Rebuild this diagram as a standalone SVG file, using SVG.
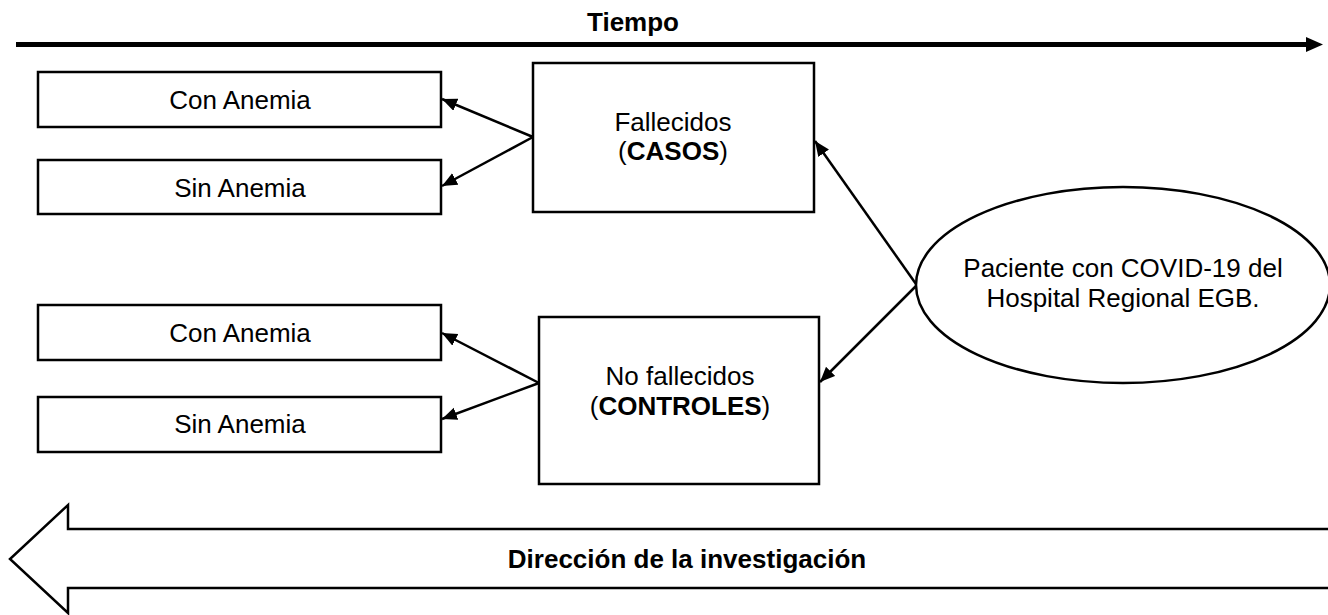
<svg xmlns="http://www.w3.org/2000/svg" width="1328" height="615" viewBox="0 0 1328 615">
<style>
.box{fill:#fff;stroke:#000;stroke-width:2.5}
.t{font-family:"Liberation Sans",Arial,sans-serif;font-size:26px;fill:#000;text-anchor:middle}
.b{font-weight:bold}
.c{stroke:#000;stroke-width:2.5;fill:none;marker-end:url(#ah)}
</style>
<defs>
<marker id="ah" markerUnits="userSpaceOnUse" markerWidth="16" markerHeight="14" refX="15" refY="6.5" orient="auto">
<path d="M0,0 L15,6.5 L0,13 z" fill="#000"/>
</marker>
</defs>
<rect width="1328" height="615" fill="#fff"/>
<g id="tiempo">
<line x1="16" y1="44.5" x2="1308" y2="44.5" stroke="#000" stroke-width="5"/>
<polygon points="1306,37 1323,44.5 1306,52" fill="#000"/>
<text class="t b" x="633" y="31">Tiempo</text>
</g>
<g id="direccion">
<path d="M1332,529 L68,529 L68,505 L10,559 L68,613 L68,588 L1332,588" fill="#fff" stroke="#000" stroke-width="2.5"/>
<text class="t b" x="687" y="568">Dirección de la investigación</text>
</g>
<g id="con1"><rect class="box" x="38" y="72" width="403" height="55"/><text class="t" x="240" y="109">Con Anemia</text></g>
<g id="sin1"><rect class="box" x="38" y="160" width="403" height="54"/><text class="t" x="240" y="197">Sin Anemia</text></g>
<g id="con2"><rect class="box" x="38" y="305" width="403" height="55"/><text class="t" x="240" y="342">Con Anemia</text></g>
<g id="sin2"><rect class="box" x="38" y="397" width="403" height="55"/><text class="t" x="240" y="433">Sin Anemia</text></g>
<g id="fallecidos"><rect class="box" x="533" y="63" width="281" height="149"/>
<text class="t" x="673" y="131">Fallecidos</text>
<text class="t" x="673" y="160">(<tspan class="b">CASOS</tspan>)</text></g>
<g id="nofallecidos"><rect class="box" x="539" y="317" width="280" height="167"/>
<text class="t" x="680" y="385">No fallecidos</text>
<text class="t" x="680" y="415">(<tspan class="b">CONTROLES</tspan>)</text></g>
<g id="paciente"><ellipse cx="1123" cy="285" rx="207" ry="98" fill="#fff" stroke="#000" stroke-width="2.5"/>
<text class="t" x="1123" y="277">Paciente con COVID-19 del</text>
<text class="t" x="1123" y="307">Hospital Regional EGB.</text></g>
<g id="connectors">
<line class="c" x1="533" y1="137" x2="442" y2="99"/>
<line class="c" x1="533" y1="137" x2="442" y2="186"/>
<line class="c" x1="539" y1="383" x2="442" y2="333"/>
<line class="c" x1="539" y1="383" x2="442" y2="419"/>
<line class="c" x1="916" y1="284" x2="815" y2="141"/>
<line class="c" x1="916" y1="286" x2="820" y2="382"/>
</g>
</svg>
